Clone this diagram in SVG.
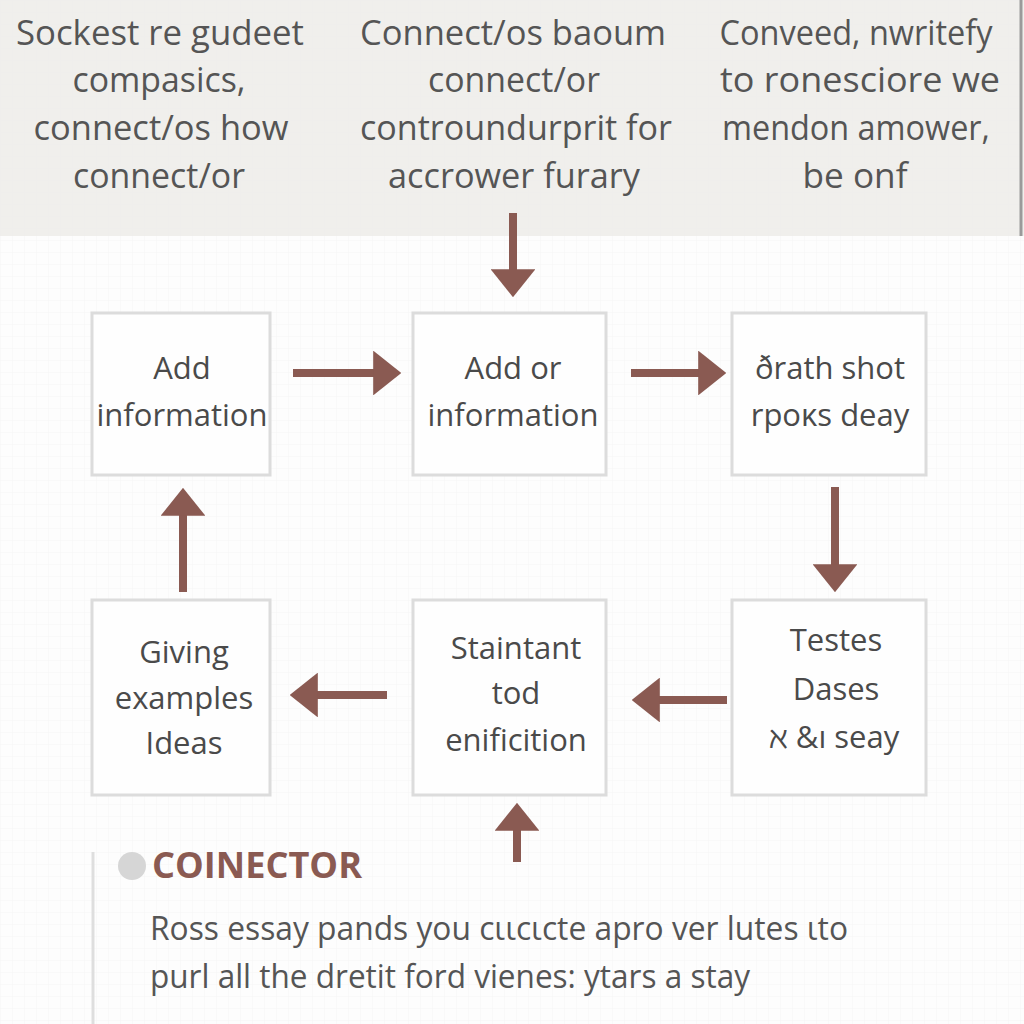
<svg xmlns="http://www.w3.org/2000/svg" width="1024" height="1024" viewBox="0 0 1024 1024">
<defs>
<pattern id="grid" width="12" height="12" patternUnits="userSpaceOnUse">
<path d="M12 0H0V12" fill="none" stroke="#ececec" stroke-width="1"/>
</pattern>
<marker id="ah" viewBox="0 0 10 16" refX="1" refY="8" markerWidth="3.5" markerHeight="5.6" orient="auto" markerUnits="strokeWidth">
<path d="M0 0L10 8L0 16Z" fill="#8a5a52"/>
</marker>
<style>
.box{fill:#fefefe;stroke:#dcdcdc;stroke-width:3}
.t{font-family:"Open Sans","Liberation Sans",sans-serif;font-size:31px;fill:#4a4a4a;text-anchor:middle}
.top{font-family:"Open Sans","Liberation Sans",sans-serif;font-size:35px;fill:#555;text-anchor:middle}
.body{font-family:"Open Sans","Liberation Sans",sans-serif;font-size:33px;fill:#555}
.conn{stroke:#8a5a52;stroke-width:8;fill:none;marker-end:url(#ah)}
</style>
</defs>
<rect width="1024" height="1024" fill="#fdfdfd"/>
<rect width="1024" height="1024" fill="url(#grid)" opacity="0.5"/>
<rect x="0" y="0" width="1024" height="236" fill="#f0efec"/>
<rect x="0" y="0" width="1024" height="236" fill="url(#grid)" opacity="0.5"/>
<line x1="1021" y1="0" x2="1021" y2="236" stroke="#9a9a9a" stroke-width="3"/>

<g id="header">
<text class="top" x="160" y="45" textLength="288" lengthAdjust="spacingAndGlyphs">Sockest re gudeet</text>
<text class="top" x="159" y="92" textLength="173" lengthAdjust="spacingAndGlyphs">compasics,</text>
<text class="top" x="161" y="140" textLength="255" lengthAdjust="spacingAndGlyphs">connect/os how</text>
<text class="top" x="159" y="188" textLength="172" lengthAdjust="spacingAndGlyphs">connect/or</text>
<text class="top" x="513" y="45" textLength="306" lengthAdjust="spacingAndGlyphs">Connect/os baoum</text>
<text class="top" x="514" y="92" textLength="172" lengthAdjust="spacingAndGlyphs">connect/or</text>
<text class="top" x="516" y="140" textLength="312" lengthAdjust="spacingAndGlyphs">controundurprit for</text>
<text class="top" x="514" y="188" textLength="252" lengthAdjust="spacingAndGlyphs">accrower furary</text>
<text class="top" x="856" y="45" textLength="273" lengthAdjust="spacingAndGlyphs">Conveed, nwritefy</text>
<text class="top" x="860" y="92" textLength="280" lengthAdjust="spacingAndGlyphs">to ronesciore we</text>
<text class="top" x="856" y="140" textLength="268" lengthAdjust="spacingAndGlyphs">mendon amower,</text>
<text class="top" x="855" y="188" textLength="105" lengthAdjust="spacingAndGlyphs">be onf</text>
</g>

<g id="node1"><rect class="box" x="92" y="313" width="178" height="162"/>
<text class="t" x="182" y="379">Add</text><text class="t" x="182" y="426">information</text></g>
<g id="node2"><rect class="box" x="413" y="313" width="193" height="162"/>
<text class="t" x="513" y="379">Add or</text><text class="t" x="513" y="426">information</text></g>
<g id="node3"><rect class="box" x="732" y="313" width="194" height="162"/>
<text class="t" x="830" y="379">ðrath shot</text><text class="t" x="830" y="426">rpoκs deay</text></g>
<g id="node4"><rect class="box" x="92" y="600" width="178" height="195"/>
<text class="t" x="184" y="663">Giving</text><text class="t" x="184" y="709">examples</text><text class="t" x="184" y="754">Ideas</text></g>
<g id="node5"><rect class="box" x="413" y="600" width="193" height="195"/>
<text class="t" x="516" y="659">Staintant</text><text class="t" x="516" y="704">tod</text><text class="t" x="516" y="751">enificition</text></g>
<g id="node6"><rect class="box" x="732" y="600" width="194" height="195"/>
<text class="t" x="836" y="651">Testes</text><text class="t" x="836" y="700">Dases</text><text class="t" x="834" y="748">ℵ &amp;ı seay</text></g>

<g id="connectors">
<line class="conn" x1="513" y1="213" x2="513" y2="272"/>
<line class="conn" x1="293" y1="373" x2="376" y2="373"/>
<line class="conn" x1="631" y1="373" x2="701" y2="373"/>
<line class="conn" x1="835" y1="487" x2="835" y2="567"/>
<line class="conn" x1="727" y1="700" x2="657" y2="700"/>
<line class="conn" x1="387" y1="695" x2="315" y2="695"/>
<line class="conn" x1="183" y1="592" x2="183" y2="513"/>
<line class="conn" x1="517" y1="862" x2="517" y2="828"/>
</g>

<g id="note">
<line x1="93" y1="852" x2="93" y2="1024" stroke="#dedede" stroke-width="3"/>
<circle cx="132" cy="866" r="14" fill="#d6d6d6"/>
<text x="152" y="878" font-family="'Open Sans','Liberation Sans',sans-serif" font-weight="bold" font-size="36" fill="#8a5a52" textLength="210" lengthAdjust="spacingAndGlyphs">COINECTOR</text>
<text class="body" x="150" y="940" textLength="698" lengthAdjust="spacingAndGlyphs">Ross essay pands you cιιcιcte apro ver lutes ιto</text>
<text class="body" x="150" y="988" textLength="600" lengthAdjust="spacingAndGlyphs">purl all the dretit ford vienes: ytars a stay</text>
</g>
</svg>
